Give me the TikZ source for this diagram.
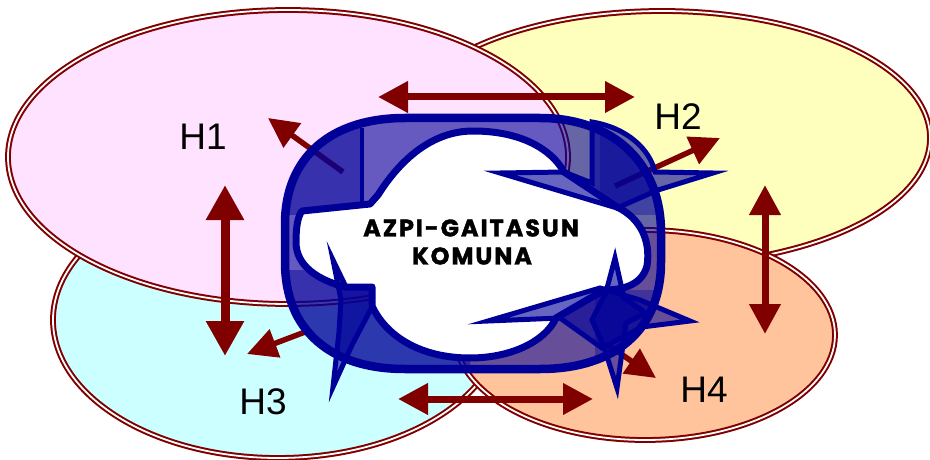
\documentclass[tikz,border=0pt]{standalone}
\usepackage{fontspec}
\setmainfont{Liberation Sans}
\newfontfamily\ringfont{Poppins}[LetterSpace=8, BoldFeatures={FakeBold=1.5}]
\usetikzlibrary{arrows.meta}

\definecolor{dred}{RGB}{128,0,0}
\definecolor{navyb}{RGB}{0,0,153}
\definecolor{pinkf}{RGB}{255,226,255}
\definecolor{yelf}{RGB}{255,255,189}
\definecolor{cyanf}{RGB}{204,255,255}
\definecolor{orf}{RGB}{255,196,155}

\tikzset{
  hoop/.style={draw=dred, line width=2pt, double=white, double distance=1.8pt},
  link/.style={draw=dred, line width=7pt,
    {Triangle[length=30pt,width=30pt]}-{Triangle[length=30pt,width=30pt]}},
  biglink/.style={draw=dred, line width=9pt,
    {Triangle[length=35pt,width=36pt]}-{Triangle[length=35pt,width=36pt]}},
  outlink/.style={draw=dred, line width=5.5pt, -{Triangle[length=30pt,width=29pt]}},
  label/.style={font=\fontsize{37}{40}\selectfont, inner sep=0pt},
  ringtext/.style={font=\ringfont\bfseries\fontsize{24}{26}\selectfont, inner sep=0pt},
  band/.style={fill=navyb, fill opacity=0.6},
  rim/.style={draw=navyb, line width=8.5pt, line join=round},
  head/.style={fill=navyb, fill opacity=0.6, draw=navyb, draw opacity=1,
    line width=5pt, line join=miter, miter limit=20},
}

\begin{document}
\begin{tikzpicture}[x=1pt, y=-1pt]
  \useasboundingbox (0,0) rectangle (930,460);
  \fill[white] (0,0) rectangle (930,460);

  % the four groups
  \path[hoop, fill=yelf]  (662,138) ellipse [x radius=268pt, y radius=127pt];
  \path[hoop, fill=cyanf] (278,320) ellipse [x radius=225pt, y radius=138pt];
  \path[hoop, fill=orf]   (645,335) ellipse [x radius=190pt, y radius=105pt];
  \path[hoop, fill=pinkf] (288,157) ellipse [x radius=280pt, y radius=147pt];

  \node[label] (h1) at (203,137) {H1};
  \node[label] (h2) at (678,117) {H2};
  \node[label] (h3) at (263,402) {H3};
  \node[label] (h4) at (704,390) {H4};

  % end points of the links
  \coordinate (t12a) at (378,97);   \coordinate (t12b) at (635,97);
  \coordinate (v13a) at (225,185);  \coordinate (v13b) at (225,356);
  \coordinate (v24a) at (765,185);  \coordinate (v24b) at (765,334);
  \coordinate (b34a) at (398,399);  \coordinate (b34b) at (593,399);
  \coordinate (c1) at (343,172);    \coordinate (p1) at (268,118);
  \coordinate (c2) at (615,186);    \coordinate (p2) at (720,138);
  \coordinate (c3) at (305,332);    \coordinate (p3) at (247,354);
  \coordinate (c4) at (608,345);    \coordinate (p4) at (656,378);

  \draw[link] (t12a) -- (t12b);
  \draw[biglink] (v13a) -- (v13b);
  \draw[link] (v24a) -- (v24b);
  \draw[link] (b34a) -- (b34b);
  \draw[outlink] (c1) -- (p1);
  \draw[outlink] (c2) -- (p2);
  \draw[outlink] (c3) -- (p3);
  \draw[outlink] (c4) -- (p4);

  % common core: ring of four arrows
  \path[save path=\ringpath]
    (405,118) -- (540,118) .. controls (615,118) and (661,165) .. (661,232)
    -- (661,262) .. controls (661,330) and (615,369) .. (540,369)
    -- (405,369) .. controls (330,369) and (285,330) .. (285,262)
    -- (285,224) .. controls (285,158) and (330,118) .. (405,118) -- cycle;
  \path[save path=\corepath]
    (473,131) .. controls (522,131) and (552,150) .. (564,172)
    -- (617,207) .. controls (640,218) and (651,240) .. (647,266)
    .. controls (642,284) and (625,290) .. (604,290)
    -- (556,318) .. controls (545,342) and (510,358) .. (470,358)
    .. controls (420,358) and (386,336) .. (372,306)
    -- (372,287) -- (345,287)
    .. controls (318,280) and (296,266) .. (296,242)
    .. controls (296,226) and (298,216) .. (302,211)
    -- (370,204) -- (378,195)
    .. controls (400,160) and (432,131) .. (473,131) -- cycle;

  \fill[band, use path=\ringpath];
  \begin{scope}
    \clip[use path=\ringpath];
    \fill[navyb, opacity=0.45] (280,110) rectangle (362,215);
    \fill[navyb, opacity=0.45] (280,270) -- (372,270) -- (372,300)
      -- (470,330) -- (470,375) -- (280,375) -- cycle;
    \fill[navyb, opacity=0.35] (600,120) rectangle (665,215);
    \fill[navyb, opacity=0.35] (595,290) rectangle (665,375);
  \end{scope}
  \fill[white, use path=\corepath];
  \draw[navyb, line width=7pt, line join=round, use path=\corepath];
  \draw[rim, use path=\ringpath];

  % arrow heads
  \path[head] (500,173) -- (564,172) -- (592,183) -- (592,122)
    .. controls (628,128) and (650,150) .. (655,172)
    -- (713,173) -- (658,190) -- (617,208) -- cycle;
  \path[head] (488,321) -- (600,288) -- (640,300) -- (690,321)
    -- (642,327) -- (602,348) -- (560,318) -- cycle;
  \path[head] (615,258) -- (624,298) -- (646,313) -- (626,323)
    -- (617,388) -- (604,347) -- (592,320) -- (606,292) -- cycle;
  \path[head] (333,260) -- (346,287) -- (372,287) -- (372,307)
    -- (352,345) -- (333,387) -- (339,332) -- (341,300) -- cycle;
  \draw[navyb, line width=4pt] (362,128) -- (362,203);

  \node[ringtext] (core1) at (471,228) {AZPI-GAITASUN};
  \node[ringtext] (core2) at (472,256) {KOMUNA};
\end{tikzpicture}
\end{document}
